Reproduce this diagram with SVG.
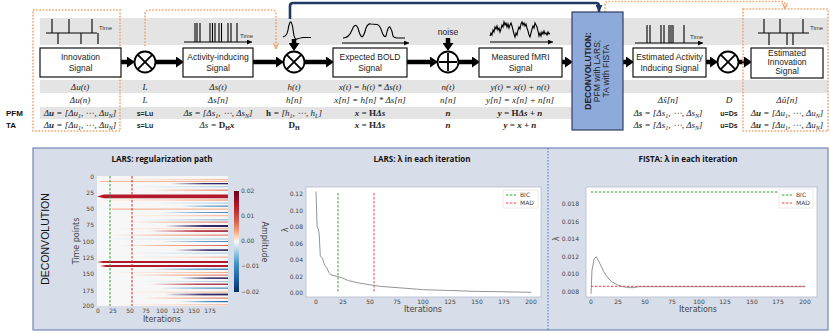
<svg xmlns="http://www.w3.org/2000/svg" width="830" height="331" viewBox="0 0 830 331">
<style>
.band{fill:#e4e4e4}
.box{fill:#fff;stroke:#111;stroke-width:1.2}
.bt{font-family:"Liberation Sans",Arial,sans-serif;font-size:8.5px;fill:#222;text-anchor:middle}
.m{font-family:"Liberation Serif","Times New Roman",serif;font-size:9px;font-style:italic;fill:#222;text-anchor:middle}
.mb{font-weight:bold}
.sb{font-family:"Liberation Sans",Arial,sans-serif;font-size:7px;font-weight:bold;fill:#222;text-anchor:middle}
.lab{font-family:"Liberation Sans",Arial,sans-serif;font-size:8px;font-weight:bold;fill:#111}
.thick{stroke:#000;stroke-width:4.5;fill:none}
.op{fill:#fff;stroke:#000;stroke-width:1.8}
.opl{stroke:#000;stroke-width:1.8}
.sig{fill:none;stroke:#000;stroke-width:1.1}
.tm{font-family:"Liberation Sans",Arial,sans-serif;font-size:6px;fill:#333}
.dot{fill:none;stroke:#f4a46c;stroke-width:1.6;stroke-dasharray:1.6 1.6}
.tk{font-family:"DejaVu Sans",sans-serif;font-size:6px;fill:#444}
.ttl{font-family:"Open Sans","Liberation Sans",sans-serif;font-size:8px;font-weight:bold;fill:#111;text-anchor:middle}
.ax{font-family:"DejaVu Sans",sans-serif;font-size:8px;fill:#444;text-anchor:middle}
.gd{stroke:#2ca02c;stroke-width:1;stroke-dasharray:2.5 1.5;fill:none}
.rd{stroke:#f04040;stroke-width:1;stroke-dasharray:2.5 1.5;fill:none}
</style>
<defs>
<marker id="big" markerUnits="userSpaceOnUse" markerWidth="8" markerHeight="11" viewBox="0 0 8 11" refX="0" refY="5.5" orient="auto"><path d="M0,0 L8,5.5 L0,11 z" fill="#000"/></marker>
<marker id="sm" markerUnits="userSpaceOnUse" markerWidth="5" markerHeight="5" viewBox="0 0 5 5" refX="5" refY="2.5" orient="auto"><path d="M0,0 L5,2.5 L0,5 z" fill="#000"/></marker>
<marker id="or" markerUnits="userSpaceOnUse" markerWidth="6" markerHeight="6" viewBox="0 0 6 6" refX="6" refY="3" orient="auto"><path d="M0,0.5 L6,3 L0,5.5" fill="none" stroke="#f4a46c" stroke-width="1.2"/></marker>
<marker id="bl" markerUnits="userSpaceOnUse" markerWidth="7" markerHeight="7" viewBox="0 0 7 7" refX="7" refY="3.5" orient="auto"><path d="M0,0 L7,3.5 L0,7 z" fill="#1f3864"/></marker>
<linearGradient id="cb" x1="0" y1="0" x2="0" y2="1">
<stop offset="0" stop-color="#67001f"/><stop offset="0.15" stop-color="#b2182b"/><stop offset="0.3" stop-color="#d6604d"/><stop offset="0.4" stop-color="#f4a582"/><stop offset="0.46" stop-color="#fddbc7"/><stop offset="0.5" stop-color="#f7f7f7"/><stop offset="0.55" stop-color="#d1e5f0"/><stop offset="0.62" stop-color="#92c5de"/><stop offset="0.72" stop-color="#4393c3"/><stop offset="0.85" stop-color="#2166ac"/><stop offset="1" stop-color="#053061"/>
</linearGradient>
<linearGradient id="gDR"><stop offset="0" stop-color="#b2182b" stop-opacity="0"/><stop offset="0.6" stop-color="#b2182b"/><stop offset="1" stop-color="#8e1126"/></linearGradient>
<linearGradient id="gLR"><stop offset="0" stop-color="#f4a582" stop-opacity="0"/><stop offset="0.5" stop-color="#f4a582"/><stop offset="1" stop-color="#d6604d"/></linearGradient>
<linearGradient id="gPK"><stop offset="0" stop-color="#fddbc7" stop-opacity="0"/><stop offset="0.5" stop-color="#fddbc7"/><stop offset="1" stop-color="#f4a582"/></linearGradient>
<linearGradient id="gLB"><stop offset="0" stop-color="#d1e5f0" stop-opacity="0"/><stop offset="0.5" stop-color="#d1e5f0"/><stop offset="1" stop-color="#92c5de"/></linearGradient>
<linearGradient id="gB"><stop offset="0" stop-color="#4393c3" stop-opacity="0"/><stop offset="0.6" stop-color="#4393c3"/><stop offset="1" stop-color="#2166ac"/></linearGradient>
<linearGradient id="gNV"><stop offset="0" stop-color="#3a2f6b" stop-opacity="0"/><stop offset="0.6" stop-color="#3a2f6b"/><stop offset="1" stop-color="#2a1f55"/></linearGradient>
</defs>

<rect width="830" height="331" fill="#fff"/>

<g id="bands">
<rect class="band" x="40" y="18" width="788" height="27"/>
<rect class="band" x="40" y="80" width="788" height="13"/>
<rect class="band" x="40" y="107" width="532" height="12"/>
</g>

<g id="connectors">
<line class="thick" x1="121" y1="62" x2="127" y2="62" marker-end="url(#big)"/>
<line class="thick" x1="156" y1="62" x2="176" y2="62" marker-end="url(#big)"/>
<line class="thick" x1="253" y1="62" x2="276" y2="62" marker-end="url(#big)"/>
<line class="thick" x1="305" y1="62" x2="326" y2="62" marker-end="url(#big)"/>
<line class="thick" x1="407" y1="62" x2="430" y2="62" marker-end="url(#big)"/>
<line class="thick" x1="459" y1="62" x2="472" y2="62" marker-end="url(#big)"/>
<line class="thick" x1="562" y1="62" x2="565" y2="62" marker-end="url(#big)"/>
<line class="thick" x1="623" y1="62" x2="626" y2="62" marker-end="url(#big)"/>
<line class="thick" x1="739" y1="62" x2="744" y2="62" marker-end="url(#big)"/>
<line class="thick" x1="706" y1="62" x2="710" y2="62" marker-end="url(#big)"/>
<line class="thick" x1="294" y1="39" x2="294" y2="43" marker-end="url(#big)"/>
<line class="thick" x1="448" y1="38" x2="448" y2="43" marker-end="url(#big)"/>
<path class="dot" d="M145,46 V14 Q145,10 149,10 H272 Q276,10 276,14 V49" marker-end="url(#or)"/>
<path class="dot" d="M605,12 V4.5 Q605,1.5 608,1.5 H782 Q785,1.5 785,4.5 V9" marker-end="url(#or)"/>
<path d="M290,19 V6 Q290,3 293,3 H596 Q599,3 599,6 V12" fill="none" stroke="#1f3864" stroke-width="2.6" marker-end="url(#bl)"/>
</g>

<g id="innovation">
<rect class="dot" x="33" y="10" width="87" height="121"/>
<line class="sig" x1="46" y1="33" x2="97" y2="33"/>
<path class="sig" d="M52,33 V19 M69,33 V19 M92,33 V19 M58,33 V44 M81,33 V44 M98,33 V44" stroke-width="1.3"/>
<text class="tm" x="99" y="30">Time</text>
<rect class="box" x="40" y="48" width="81" height="29"/>
<text class="bt" x="80.5" y="60">Innovation</text>
<text class="bt" x="80.5" y="71">Signal</text>
</g>

<g id="mult1">
<circle class="op" cx="145" cy="62" r="10.5"/>
<path class="opl" d="M137.6,54.6 L152.4,69.4 M152.4,54.6 L137.6,69.4"/>
</g>

<g id="activity">
<line class="sig" x1="184" y1="42" x2="252" y2="42" marker-end="url(#sm)"/>
<path class="sig" d="M195,42V23 M197,42V23 M200,42V23 M210,42V23 M212.5,42V23 M215,42V23 M219,42V23 M221.5,42V23 M228,42V23 M231,42V23 M237,42V23"/>
<text class="tm" x="240" y="38">Time</text>
<rect class="box" x="183" y="48" width="70" height="29"/>
<text class="bt" x="218" y="60">Activity-inducing</text>
<text class="bt" x="218" y="71">Signal</text>
</g>

<g id="hrf">
<path class="sig" d="M283,37 Q287,36 288,30 Q289.5,21 291,22 Q292.5,24 293.5,33 Q294.5,40 297,39 Q300,38 303,37.5 L311,37.5"/>
</g>

<g id="mult2">
<circle class="op" cx="294" cy="62" r="10.5"/>
<path class="opl" d="M286.6,54.6 L301.4,69.4 M301.4,54.6 L286.6,69.4"/>
</g>

<g id="bold">
<line class="sig" x1="342" y1="43" x2="409" y2="43" marker-end="url(#sm)"/>
<path class="sig" d="M343,38 Q349,38 352,30 Q355,22 358,28 Q360,36 362,37 Q364,36 366,28 Q368,23 371,24 L377,24.5 Q380,25 382,32 Q384,38 386,36 Q388,26 390,27 Q392,30 393,36 Q394,38 397,38 L405,38"/>
<rect class="box" x="333" y="48" width="74" height="29"/>
<text class="bt" x="370" y="60">Expected BOLD</text>
<text class="bt" x="370" y="71">Signal</text>
</g>

<g id="noise">
<text class="bt" x="448" y="35" font-size="8">noise</text>
<circle class="op" cx="448" cy="62" r="10.5"/>
<path class="opl" d="M439,62 H457 M448,53 V71"/>
</g>

<g id="fmri">
<line class="sig" x1="490" y1="42" x2="553" y2="42" marker-end="url(#sm)"/>
<polyline class="sig" points="490,36 491,33 492,35 493,30 494,32 495,27 496,29 497,26 498,30 499,28 500,32 501,29 502,25 503,27 504,22 505,25 506,23 507,27 508,24 509,28 510,25 511,23 512,26 513,30 514,34 515,37 516,33 517,35 518,30 519,27 520,29 521,24 522,22 523,25 524,23 525,26 526,24 527,28 528,31 529,35 530,37 531,33 532,29 533,26 534,28 535,23 536,25 537,27 538,31 539,36 540,33 541,36 542,32 543,34 544,31 545,34 546,33 547,35 548,32 549,34 550,33"/>
<rect class="box" x="479" y="48" width="83" height="29"/>
<text class="bt" x="520.5" y="60">Measured fMRI</text>
<text class="bt" x="520.5" y="71">Signal</text>
</g>

<g id="deconvolution">
<rect x="572" y="12" width="51" height="118" fill="#8eaadb" stroke="#2f3f5f" stroke-width="1.2"/>
<text transform="translate(591,71) rotate(-90)" class="bt" font-weight="bold" fill="#111">DECONVOLUTION:</text>
<text transform="translate(600,71) rotate(-90)" class="bt" fill="#111">PFM with LARS;</text>
<text transform="translate(609,71) rotate(-90)" class="bt" fill="#111">TA with FISTA</text>
</g>

<g id="est-activity">
<line class="sig" x1="635" y1="43" x2="703" y2="43" marker-end="url(#sm)"/>
<path class="sig" d="M647,43V25 M650,43V25 M661,43V25 M664,43V25 M669,43V25 M671,43V25 M673,43V25 M684,43V25"/>
<text class="tm" x="690" y="39">Time</text>
<rect class="box" x="633" y="48" width="73" height="29"/>
<text class="bt" x="669.5" y="60">Estimated Activity</text>
<text class="bt" x="669.5" y="71">Inducing Signal</text>
</g>

<g id="mult3">
<circle class="op" cx="728" cy="62" r="10.5"/>
<path class="opl" d="M720.6,54.6 L735.4,69.4 M735.4,54.6 L720.6,69.4"/>
</g>

<g id="est-innovation">
<rect class="dot" x="743" y="9" width="85" height="122"/>
<line class="sig" x1="758" y1="33" x2="809" y2="33"/>
<path class="sig" d="M764,33V19 M780,33V19 M803,33V19 M769,33V45 M787,33V45 M793,33V45" stroke-width="1.3"/>
<text class="tm" x="810" y="30">Time</text>
<rect class="box" x="751" y="48" width="72" height="30"/>
<text class="bt" x="787" y="56">Estimated</text>
<text class="bt" x="787" y="65">Innovation</text>
<text class="bt" x="787" y="74">Signal</text>
</g>

<g id="equations">
<text class="lab" x="6" y="116">PFM</text>
<text class="lab" x="6" y="128">TA</text>

<text class="m" x="80" y="90">Δu(t)</text>
<text class="m" x="80" y="102.5">Δu(n)</text>
<text class="m" x="80" y="116">Δ<tspan class="mb">u</tspan> = [Δu<tspan font-size="6" dy="2">1</tspan><tspan dy="-2">, ⋯, Δu</tspan><tspan font-size="6" dy="2">N</tspan><tspan dy="-2">]</tspan></text>
<text class="m" x="80" y="128">Δ<tspan class="mb">u</tspan> = [Δu<tspan font-size="6" dy="2">1</tspan><tspan dy="-2">, ⋯, Δu</tspan><tspan font-size="6" dy="2">N</tspan><tspan dy="-2">]</tspan></text>

<text class="m" x="145" y="90" font-style="normal">L</text>
<text class="m" x="145" y="102.5" font-style="normal">L</text>
<text class="sb" x="145" y="116">s=Lu</text>
<text class="sb" x="145" y="128">s=Lu</text>

<text class="m" x="218" y="90">Δs(t)</text>
<text class="m" x="218" y="102.5">Δs[n]</text>
<text class="m" x="218" y="116">Δ<tspan class="mb">s</tspan> = [Δs<tspan font-size="6" dy="2">1</tspan><tspan dy="-2">, ⋯, Δs</tspan><tspan font-size="6" dy="2">N</tspan><tspan dy="-2">]</tspan></text>
<text class="m" x="217" y="128">Δs = <tspan class="mb" font-style="normal">D</tspan><tspan class="mb" font-style="normal" font-size="6" dy="2">H</tspan><tspan class="mb" dy="-2">x</tspan></text>

<text class="m" x="294" y="90">h(t)</text>
<text class="m" x="294" y="102.5">h[n]</text>
<text class="m" x="294" y="116"><tspan class="mb" font-style="normal">h</tspan> = [h<tspan font-size="6" dy="2">1</tspan><tspan dy="-2">, ⋯, h</tspan><tspan font-size="6" dy="2">L</tspan><tspan dy="-2">]</tspan></text>
<text class="m" x="294" y="128"><tspan class="mb" font-style="normal">D</tspan><tspan class="mb" font-style="normal" font-size="6" dy="2">H</tspan></text>

<text class="m" x="370" y="90">x(t) = h(t) * Δs(t)</text>
<text class="m" x="370" y="102.5">x[n] = h[n] * Δs[n]</text>
<text class="m mb" x="370" y="116">x = <tspan font-style="normal">H</tspan>Δs</text>
<text class="m mb" x="370" y="128">x = <tspan font-style="normal">H</tspan>Δs</text>

<text class="m" x="448" y="90">n(t)</text>
<text class="m" x="448" y="102.5">n[n]</text>
<text class="m mb" x="448" y="116">n</text>
<text class="m mb" x="448" y="128">n</text>

<text class="m" x="520" y="90">y(t) = x(t) + n(t)</text>
<text class="m" x="520" y="102.5">y[n] = x[n] + n[n]</text>
<text class="m mb" x="520" y="116">y = <tspan font-style="normal">H</tspan>Δs + n</text>
<text class="m mb" x="520" y="128">y = x + n</text>

<text class="m" x="668" y="102.5">Δŝ[n]</text>
<text class="m" x="668" y="116">Δ<tspan class="mb">s</tspan> = [Δs<tspan font-size="6" dy="2">1</tspan><tspan dy="-2">, ⋯, Δs</tspan><tspan font-size="6" dy="2">N</tspan><tspan dy="-2">]</tspan></text>
<text class="m" x="668" y="128">Δ<tspan class="mb">s</tspan> = [Δs<tspan font-size="6" dy="2">1</tspan><tspan dy="-2">, ⋯, Δs</tspan><tspan font-size="6" dy="2">N</tspan><tspan dy="-2">]</tspan></text>

<text class="m" x="729" y="102.5" font-style="normal">D</text>
<text class="sb" x="729" y="116">u=Ds</text>
<text class="sb" x="729" y="128">u=Ds</text>

<text class="m" x="787" y="102.5">Δû[n]</text>
<text class="m" x="787" y="116">Δ<tspan class="mb">u</tspan> = [Δu<tspan font-size="6" dy="2">1</tspan><tspan dy="-2">, ⋯, Δu</tspan><tspan font-size="6" dy="2">N</tspan><tspan dy="-2">]</tspan></text>
<text class="m" x="787" y="128">Δ<tspan class="mb">u</tspan> = [Δu<tspan font-size="6" dy="2">1</tspan><tspan dy="-2">, ⋯, Δu</tspan><tspan font-size="6" dy="2">N</tspan><tspan dy="-2">]</tspan></text>
</g>

<g id="panel">
<rect x="33" y="148" width="795" height="182" fill="#d8dee9" stroke="#6f87b6" stroke-width="1.2"/>
<line x1="548" y1="148" x2="548" y2="330" stroke="#4472c4" stroke-width="1" stroke-dasharray="1.5 1.5"/>
<text transform="translate(49,239) rotate(-90)" font-family="'Liberation Sans',Arial,sans-serif" font-size="10.5px" fill="#111" text-anchor="middle">DECONVOLUTION</text>
</g>

<g id="lars-path">
<text class="ttl" x="162" y="162">LARS: regularization path</text>
<rect x="97" y="176" width="131" height="130" fill="#f7f7f7"/>
<g>
<rect x="97" y="179.2" width="131" height="1" fill="url(#gPK)"/>
<rect x="100" y="181.2" width="128" height="0.8" fill="#f4a582"/>
<rect x="170" y="183" width="58" height="1.3" fill="url(#gNV)"/>
<rect x="130" y="186.3" width="98" height="1" fill="url(#gLB)"/>
<rect x="150" y="189.6" width="78" height="1" fill="url(#gLR)"/>
<path d="M97,196.4 L104,194.6 H228 V198.2 H104 Z" fill="#b2182b"/>
<rect x="97" y="199.3" width="131" height="1.5" fill="url(#gPK)"/>
<rect x="150" y="202.6" width="78" height="1" fill="url(#gLB)"/>
<rect x="180" y="205.6" width="48" height="1" fill="url(#gB)"/>
<rect x="112" y="208.6" width="116" height="1" fill="#f4a582"/>
<rect x="160" y="212" width="68" height="0.8" fill="url(#gB)"/>
<rect x="120" y="215.2" width="108" height="1" fill="url(#gPK)"/>
<rect x="140" y="219" width="88" height="1.5" fill="url(#gLB)"/>
<rect x="130" y="221.6" width="98" height="1" fill="url(#gLR)"/>
<rect x="165" y="225" width="63" height="2" fill="url(#gNV)"/>
<rect x="110" y="228.2" width="118" height="1" fill="url(#gPK)"/>
<rect x="150" y="230.3" width="78" height="1.5" fill="url(#gDR)"/>
<rect x="110" y="234.6" width="118" height="1" fill="url(#gLR)"/>
<rect x="100" y="238.5" width="128" height="1" fill="url(#gLB)"/>
<rect x="160" y="241.2" width="68" height="0.8" fill="url(#gB)"/>
<rect x="120" y="245" width="108" height="1" fill="url(#gLR)"/>
<rect x="175" y="249.3" width="53" height="1.6" fill="url(#gNV)"/>
<rect x="130" y="252.6" width="98" height="1" fill="url(#gLB)"/>
<rect x="140" y="256.6" width="88" height="1" fill="url(#gPK)"/>
<path d="M97,262 L103,260.9 H228 V263.1 H103 Z" fill="#b2182b"/>
<path d="M100,266 L106,265 H228 V267 H106 Z" fill="#b2182b"/>
<rect x="150" y="268.6" width="78" height="1.2" fill="url(#gB)"/>
<rect x="110" y="272" width="118" height="1" fill="url(#gPK)"/>
<rect x="130" y="274.6" width="98" height="1" fill="url(#gLR)"/>
<rect x="180" y="277.4" width="48" height="1.5" fill="url(#gNV)"/>
<rect x="140" y="281" width="88" height="1" fill="url(#gLB)"/>
<rect x="150" y="283.6" width="78" height="1.2" fill="url(#gDR)"/>
<rect x="160" y="287.6" width="68" height="1" fill="url(#gB)"/>
<rect x="120" y="291.6" width="108" height="1" fill="url(#gPK)"/>
<rect x="165" y="293.6" width="63" height="1.8" fill="url(#gNV)"/>
<rect x="140" y="297.6" width="88" height="1" fill="url(#gLR)"/>
<rect x="180" y="301" width="48" height="1.2" fill="url(#gB)"/>
<rect x="120" y="304.3" width="108" height="1" fill="url(#gPK)"/>
</g>
<line class="gd" x1="110" y1="176" x2="110" y2="306"/>
<line class="rd" x1="132" y1="176" x2="132" y2="306" style="stroke:#d62728"/>
<g class="tk" text-anchor="end">
<text x="94" y="179">0</text><text x="94" y="195">25</text><text x="94" y="211">50</text><text x="94" y="227">75</text><text x="94" y="244">100</text><text x="94" y="260">125</text><text x="94" y="276">150</text><text x="94" y="293">175</text><text x="94" y="308">200</text>
</g>
<g class="tk" text-anchor="middle">
<text x="98" y="313">0</text><text x="113" y="313">25</text><text x="130" y="313">50</text><text x="146" y="313">75</text><text x="162" y="313">100</text><text x="178" y="313">125</text><text x="194" y="313">150</text><text x="210" y="313">175</text>
</g>
<text class="ax" x="162" y="322">Iterations</text>
<text class="ax" transform="translate(79,241) rotate(-90)">Time points</text>
<rect x="234" y="191" width="5" height="101" fill="url(#cb)"/>
<g class="tk">
<text x="241" y="193">0.02</text><text x="241" y="218">0.01</text><text x="241" y="243">0.00</text><text x="241" y="268">−0.01</text><text x="241" y="294">−0.02</text>
</g>
<text class="ax" transform="translate(262,242) rotate(90)" fill="#333">Amplitude</text>
</g>

<g id="lars-lambda">
<text class="ttl" x="422" y="162">LARS: λ in each iteration</text>
<rect x="306" y="187" width="235" height="110" fill="#fff" stroke="#b4bccb" stroke-width="0.8"/>
<g class="tk" text-anchor="end">
<text x="303" y="196">0.12</text><text x="303" y="213">0.10</text><text x="303" y="229">0.08</text><text x="303" y="246">0.06</text><text x="303" y="262">0.04</text><text x="303" y="279">0.02</text><text x="303" y="295">0.00</text>
</g>
<g class="tk" text-anchor="middle">
<text x="316" y="304">0</text><text x="343" y="304">25</text><text x="370" y="304">50</text><text x="397" y="304">75</text><text x="423" y="304">100</text><text x="450" y="304">125</text><text x="477" y="304">150</text><text x="504" y="304">175</text><text x="531" y="304">200</text>
</g>
<text class="ax" x="423" y="312">Iterations</text>
<text class="ax" transform="translate(288,230) rotate(-90)">λ</text>
<line class="gd" x1="338" y1="193" x2="338" y2="293"/>
<line class="rd" x1="374" y1="193" x2="374" y2="293"/>
<polyline fill="none" stroke="#888" stroke-width="0.9" points="316,191.5 317.1,227 318.2,228.6 319.2,233.6 320.3,255.9 322.5,258.4 324.6,265 326.8,268 328.9,272.4 331,274.9 337.5,276.5 342.9,278.2 348.3,280.6 359,283 369.8,284.8 380.5,286.4 402,288 423.5,289.7 450.4,290.5 477.3,291.4 504,291.8 531,292.3"/>
<rect x="503" y="190" width="35" height="18" fill="#fff" stroke="#ddd" stroke-width="0.6"/>
<line class="gd" x1="506" y1="195" x2="516" y2="195"/>
<line class="rd" x1="506" y1="203" x2="516" y2="203"/>
<text class="tk" x="520" y="197">BIC</text>
<text class="tk" x="520" y="205">MAD</text>
</g>

<g id="fista-lambda">
<text class="ttl" x="688" y="162">FISTA: λ in each iteration</text>
<rect x="586" y="187" width="231" height="110" fill="#fff" stroke="#b4bccb" stroke-width="0.8"/>
<g class="tk" text-anchor="end">
<text x="579" y="206">0.018</text><text x="579" y="224">0.016</text><text x="579" y="241">0.014</text><text x="579" y="259">0.012</text><text x="579" y="276">0.010</text><text x="579" y="294">0.008</text>
</g>
<g class="tk" text-anchor="middle">
<text x="591" y="304">0</text><text x="618" y="304">25</text><text x="645" y="304">50</text><text x="672" y="304">75</text><text x="699" y="304">100</text><text x="725" y="304">125</text><text x="752" y="304">150</text><text x="778" y="304">175</text><text x="805" y="304">200</text>
</g>
<text class="ax" x="698" y="312">Iterations</text>
<text class="ax" transform="translate(559,239) rotate(-90)">λ</text>
<line class="gd" x1="591" y1="192" x2="805" y2="192"/>
<polyline fill="none" stroke="#888" stroke-width="0.9" points="591,293.8 592,270 594.2,258.6 596.4,256.8 599.6,263 603.8,271.8 608,278 612.4,282.3 617.8,285 623,286.7 628.5,287.6 633.8,287.6 639,286.7 805,286.7"/>
<line class="rd" x1="591" y1="286.3" x2="805" y2="286.3"/>
<rect x="779" y="189" width="34" height="19" fill="#fff" stroke="#ddd" stroke-width="0.6"/>
<line class="gd" x1="782" y1="195" x2="792" y2="195"/>
<line class="rd" x1="782" y1="203" x2="792" y2="203"/>
<text class="tk" x="796" y="197">BIC</text>
<text class="tk" x="796" y="205">MAD</text>
</g>
</svg>
